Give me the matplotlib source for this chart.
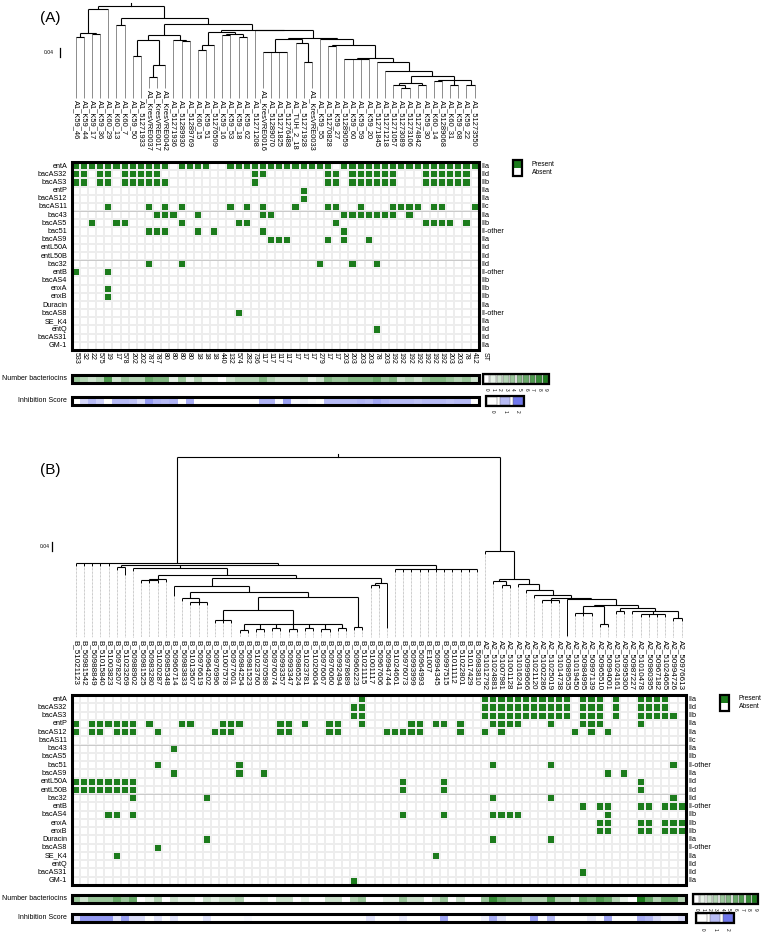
import matplotlib
matplotlib.use('Agg')
import matplotlib.pyplot as plt
import numpy as np
from matplotlib.colors import LinearSegmentedColormap, ListedColormap
from matplotlib.patches import Rectangle

# ---------------- data ----------------
rows = ["entA", "bacAS32", "bacAS3", "entP", "bacAS12", "bacAS11", "bac43", "bacAS5",
        "bac51", "bacAS9", "entL50A", "entL50B", "bac32", "entB", "bacAS4", "enxA",
        "enxB", "Duracin", "bacAS8", "SE_K4", "entQ", "bacAS31", "GM-1"]
classes = ["IIa", "IId", "IIb", "IIa", "IIa", "IIc", "IIa", "IIb", "II-other", "IIa",
           "IId", "IId", "IId", "II-other", "IIb", "IIb", "IIb", "IIa", "II-other",
           "IIa", "IId", "IId", "IIa"]

A_isolates = ["A1_K59_46", "A1_K59_44", "A1_K59_17", "A1_K59_36", "A1_K60_29", "A1_K60_13",
              "A1_K60_7", "A1_K59_50", "A1_51271933", "A1_KresVRE0037", "A1_KresVRE0017",
              "A1_KresVRE0042", "A1_51271936", "A1_51289930", "A1_51289769", "A1_K60_15",
              "A1_K59_51", "A1_51276509", "A1_K59_16", "A1_K59_53", "A1_K59_18", "A1_K59_62",
              "A1_51271208", "A1_KresVRE0016", "A1_51289070", "A1_51271825", "A1_51276488",
              "A1_TUH_2_18", "A1_51271928", "A1_KresVRE0033", "A1_K59_55", "A1_51270828",
              "A1_K59_27", "A1_51289059", "A1_K59_60", "A1_K59_59", "A1_K59_20", "A1_51271845",
              "A1_51271218", "A1_51271057", "A1_51273089", "A1_51273106", "A1_51274842",
              "A1_K59_30", "A1_K60_14", "A1_51289068", "A1_K60_31", "A1_K59_68", "A1_K59_22",
              "A1_51273550"]
A_ST = ["533", "32", "22", "575", "19", "17", "578", "202", "202", "787", "787", "80", "80",
        "80", "80", "18", "18", "18", "440", "132", "574", "282", "736", "117", "117", "117",
        "117", "17", "17", "17", "279", "17", "17", "203", "203", "203", "203", "78", "203",
        "192", "192", "192", "192", "192", "192", "192", "203", "203", "78", "412"]
A_presence = {
    "entA": list(range(0, 12)) + list(range(13, 17)) + list(range(19, 32)) + list(range(33, 50)),
    "bacAS32": [0, 1, 3, 4, 6, 7, 8, 9, 10, 22, 23, 31, 32, 34, 35, 36, 37, 38, 39, 43, 44, 45, 46, 47, 48],
    "bacAS3": [0, 1, 3, 4, 6, 7, 8, 9, 10, 11, 22, 31, 32, 34, 35, 36, 37, 38, 39, 43, 44, 45, 46, 47, 48],
    "entP": [28],
    "bacAS12": [28],
    "bacAS11": [4, 9, 11, 13, 19, 21, 23, 27, 31, 32, 35, 39, 40, 41, 42, 44, 45, 49],
    "bac43": [10, 11, 12, 15, 23, 24, 33, 34, 35, 36, 37, 38, 39, 41],
    "bacAS5": [2, 5, 6, 13, 20, 21, 32, 43, 44, 45, 46, 48],
    "bac51": [9, 10, 11, 15, 17, 23, 33],
    "bacAS9": [24, 25, 26, 31, 33, 36],
    "bac32": [9, 13, 30, 34, 37],
    "entB": [0, 4],
    "enxA": [4],
    "enxB": [4],
    "bacAS8": [20],
    "entQ": [37],
}
A_inhibition = [0, 0.6, 1.0, 0.7, 0, 1.0, 1.0, 0.9, 0.5, 1.5, 1.1, 1.0, 1.1, 0, 1.2, 0, 0, 0,
                0, 0, 0, 0, 0, 1.1, 1.1, 0.1, 1.4, 0.1, 0.2, 0.1, 0, 1.0, 1.0, 1.0, 1.0, 1.1,
                1.0, 1.3, 1.1, 1.0, 1.0, 1.0, 0.9, 1.0, 1.0, 1.0, 0.9, 1.0, 1.0, 0]

B_isolates = ["B_51021123", "B_50981542", "B_50988849", "B_51015840", "B_51003823", "B_50978207",
              "B_51023269", "B_50988902", "B_50981525", "B_50983280", "B_51020287", "B_50985348",
              "B_50966714", "B_50983833", "B_51013567", "B_50976619", "B_50964202", "B_50976996",
              "B_51007578", "B_50977601", "B_50984254", "B_50981523", "B_51023760", "B_50970598",
              "B_50976074", "B_50993357", "B_50993347", "B_50986524", "B_51023781", "B_51020604",
              "B_50976067", "B_50976060", "B_50992494", "B_50978689", "B_50966223", "B_51021115",
              "B_51001117", "B_50967606", "B_50994744", "B_51024661", "B_50976073", "B_50993999",
              "B_50964993", "B_E1007", "B_50994345", "B_50997515", "B_51011112", "B_51022801",
              "B_51017429", "B_50983810",
              "A2_51012792", "A2_51024881", "A2_51007981", "A2_51001128", "A2_51016241",
              "A2_50999666", "A2_51021120", "A2_51002286", "A2_51025019", "A2_51014738",
              "A2_50989535", "A2_51019450", "A2_50984995", "A2_50997139", "A2_50965510",
              "A2_50994001", "A2_51024161", "A2_50995300", "A2_50987227", "A2_51010478",
              "A2_50980395", "A2_50967182", "A2_51024665", "A2_50994726", "A2_50976613"]
B_presence = {
    "entA": [35] + list(range(50, 61)) + [62, 63, 64, 66, 69, 70, 71, 72],
    "bacAS32": [34, 35] + list(range(50, 61)) + [62, 63, 64, 66, 69, 70, 71, 72],
    "bacAS3": [34, 35] + list(range(50, 61)) + [62, 63, 64, 66, 69, 70, 71, 72, 73],
    "entP": [0, 2, 3, 4, 5, 6, 7, 9, 13, 14, 18, 19, 20, 25, 26, 28, 31, 32, 35, 41, 42, 44, 45,
             47, 51, 52, 53, 54, 58, 62, 63, 64, 69],
    "bacAS12": [0, 2, 3, 5, 6, 7, 10, 17, 18, 19, 25, 26, 31, 32, 38, 39, 40, 41, 42, 47, 50, 52,
                61, 63, 65],
    "bac43": [12],
    "bac51": [10, 20, 51, 58, 73],
    "bacAS9": [12, 20, 23, 65, 67],
    "entL50A": [0, 1, 2, 3, 4, 5, 6, 7, 40, 45, 69],
    "entL50B": [0, 1, 2, 3, 4, 5, 6, 7, 40, 45, 69],
    "bac32": [7, 16, 51, 58, 73],
    "entB": [62, 64, 65, 69, 70, 72, 73, 74],
    "bacAS4": [4, 5, 7, 40, 45, 51, 52, 53, 54, 65],
    "enxA": [64, 65, 69, 70, 72, 73, 74],
    "enxB": [64, 65, 69, 70, 72, 73, 74],
    "Duracin": [16, 51, 58],
    "bacAS8": [10],
    "SE_K4": [5, 44],
    "bacAS31": [62],
    "GM-1": [34],
}
B_inhibition = [0.5, 1.5, 1.5, 1.5, 1.5, 0.4, 1.4, 0.5, 0.5, 0, 0.4, 0, 0.4, 0, 0, 0, 0.4, 0,
                0, 0, 0, 0.1, 0, 0, 0, 0, 0, 0, 0, 0, 0, 0, 0, 0, 0, 0, 0.4, 0, 0, 0, 0.3, 0,
                0, 0, 0, 1.3, 0, 0, 0, 0, 0.2, 1.2, 0.4, 0, 0, 0, 1.4, 0, 1.0, 0, 0, 0, 0,
                0.3, 0, 1.3, 0, 0, 0, 1.2, 1.0, 0.5, 0.2, 0.2, 0.5]

# dendrograms: (node height in px from top, [children]); leaves are column indices
a_left = (8.5, [(33, [(36.5, [0, 1]), (34, [2, 3])]), 4])
a_n1 = (40, [(56, [7, 8]), (65, [(77, [9, 10]), 11])])
a_n5 = (40, [12, (41, [13, 14])])
a_q1 = (35, [a_n1, a_n5])
a_q3 = (32, [(45, [(50, [15, 16]), 17]), (34, [(35, [18, 19]), (37, [20, 21])])])
a_q6 = (38.5, [(52, [23, 24, 25, 26]), (43, [27, (62, [28, 29])])])
a_q14 = (82.5, [(85, [39, (88, [40, 41])]), (85, [42, 43])])
a_q15 = (80, [(81, [44, 45]), (85, [46, 47]), (85, [48, 49])])
a_q12 = (70.5, [38, (76, [a_q14, a_q15])])
a_q10 = (58, [(59, [33, 34, 35, 36]), (62, [37, a_q12])])
a_q7 = (38.5, [30, (45, [(46, [31, 32]), a_q10])])
a_q4 = (30, [22, (38, [a_q6, a_q7])])
a_right = (18, [(25, [5, 6]), (24, [a_q1, (29.5, [a_q3, a_q4])])])
A_tree = (6, [a_left, a_right])
A_tips = {9: 88, 10: 88, 11: 88, 23: 88, 29: 88}

b_s12 = (624, [(630, [20, 21]), (629, [22, 23]), (628, [24, 25]), (629, [26, 27]),
               (628, [28, 29]), (629, [30, 31]), (628, [32, 33])])
b_s10 = (597, [(610, [(620, [17, 18, 19]), b_s12]), (627, [34, 35])])
b_s6 = (586, [12, (592, [(598, [13, (602, [14, 15, 16])]), b_s10])])
b_s3 = (575, [(579, [(580, [8, 9, 10]), 11]), (578, [b_s6, (583, [(585, [36, 37]), 38])])])
b_s1 = (565, [(567, [5, 6]), (568, [7, b_s3]), (569, [39, 40, 41, 42, 43, 44, 45, 46, 47, 48, 49])])
b_left = (563, [0, 1, 2, 3, 4, b_s1])
b_rb7 = (605, [(606, [(613, [61, 62, 63]), (624, [64, 65])]),
               (608, [(611, [66, 67]), (611, [68, (614, [69, 70, 71, 72]), (618, [73, 74])])])])
b_rb4 = (595, [56, (598, [(600, [57, 58, 59]), (599, [60, b_rb7])])])
b_right = (551, [50, (579, [(581, [51, (585, [52, 53])]), (584, [54, (590, [55, b_rb4])])])])
B_tree = (457, [b_left, b_right])
B_tips = {6: 575, 12: 596, 38: 628, 60: 636}

# ---------------- style ----------------
W, H = 764, 934
GREEN = '#1c7c1c'
BLUE = '#6f77ec'
plt.rcParams['font.family'] = ['Liberation Sans', 'DejaVu Sans']
cm_present = ListedColormap(['white', GREEN])
cm_num = LinearSegmentedColormap.from_list('num', ['white', GREEN])
cm_inh = LinearSegmentedColormap.from_list('inh', ['white', BLUE])

fig = plt.figure(figsize=(W / 100, H / 100), dpi=100)


def add_ax(left, top, width, height):
    ax = fig.add_axes([left / W, 1 - (top + height) / H, width / W, height / H])
    ax.set_axis_off()
    return ax


def border(ax, w, h, lw=2.2):
    ax.add_patch(Rectangle((0, 0), w, h, fill=False, lw=lw, ec='black', clip_on=False, zorder=5))


def draw_tree(ax, node, parent_y, tips, default_tip, dotted, baseline, out):
    if isinstance(node, int):
        x = node + 0.5
        tip = tips.get(node, default_tip if default_tip is not None else parent_y + 3)
        ax.plot([x, x], [parent_y, tip], color='#8c8c8c' if not dotted else 'black', lw=0.7,
                solid_capstyle='butt')
        if dotted and tip < baseline:
            ax.plot([x, x], [tip, baseline], color='#9a9a9a', lw=0.5, ls=(0, (1, 1)))
        out[node] = tip
        return x
    y, children = node
    xs = [draw_tree(ax, ch, y, tips, default_tip, dotted, baseline, out) for ch in children]
    ax.plot([min(xs), max(xs)], [y, y], color='black', lw=0.8, solid_capstyle='butt')
    x = (min(xs) + max(xs)) / 2
    if parent_y is not None:
        ax.plot([x, x], [parent_y, y], color='black', lw=0.8, solid_capstyle='butt')
    return x


def heatmap(left, top, width, height, presence, ncol, legend_xy):
    ax = add_ax(left, top, width, height)
    nr = len(rows)
    mat = np.zeros((nr, ncol))
    for r, name in enumerate(rows):
        for c in presence.get(name, []):
            mat[r, c] = 1
    ax.pcolormesh(np.arange(ncol + 1), np.arange(nr + 1), mat, cmap=cm_present, vmin=0, vmax=1,
                  edgecolors='#ededed', linewidth=0.3)
    ax.set_xlim(0, ncol)
    ax.set_ylim(nr, 0)
    for yb in (6, 12):
        ax.plot([0, ncol], [yb, yb], color='#c4c4c4', lw=0.6)
    border(ax, ncol, nr)
    for r, (name, cl) in enumerate(zip(rows, classes)):
        ax.text(-0.55, r + 0.5, name, ha='right', va='center', fontsize=5.2)
        ax.text(ncol + 0.35, r + 0.5, cl, ha='left', va='center', fontsize=5.2)
    lx, ly = legend_xy
    lax = add_ax(lx, ly, 9, 16)
    lax.set_xlim(0, 1)
    lax.set_ylim(2, 0)
    lax.add_patch(Rectangle((0, 0), 1, 1, color=GREEN, lw=0))
    lax.add_patch(Rectangle((0, 1), 1, 1, color='white', lw=0))
    border(lax, 1, 2, lw=1.6)
    lax.text(2.1, 0.5, 'Present', ha='left', va='center', fontsize=4.8)
    lax.text(2.1, 1.5, 'Absent', ha='left', va='center', fontsize=4.8)
    return ax, mat


def bar(left, top, width, height, values, cmap, vmax, label):
    ax = add_ax(left, top, width, height)
    n = len(values)
    ax.pcolormesh(np.arange(n + 1), [0, 1], np.array([values], dtype=float), cmap=cmap,
                  vmin=0, vmax=vmax)
    ax.set_xlim(0, n)
    ax.set_ylim(1, 0)
    border(ax, n, 1)
    ax.text(-0.6, 0.5, label, ha='right', va='center', fontsize=5.0)


def legend_boxes(left, top, width, height, nbox, cmap, vmax, labels):
    ax = add_ax(left, top, width, height)
    ax.set_xlim(0, nbox)
    ax.set_ylim(1, 0)
    for i in range(nbox):
        ax.add_patch(Rectangle((i + 0.1, 0.1), 0.8, 0.8, facecolor=cmap(i / vmax),
                               edgecolor='#555555', lw=0.3))
    border(ax, nbox, 1, lw=1.6)
    for i, lab in enumerate(labels):
        ax.text(i + 0.5, 1.45, lab, rotation=270, ha='center', va='top', fontsize=3.4)


# ---------------- panel A ----------------
nA = len(A_isolates)
fig.text(40 / W, 1 - 18 / H, '(A)', fontsize=11, ha='left', va='center')
dA = add_ax(71.7, 0, 407, 100)
dA.set_xlim(0, nA)
dA.set_ylim(100, 0)
tipsA = {}
rx = draw_tree(dA, A_tree, None, A_tips, 98, False, 98, tipsA)
dA.plot([rx, rx], [3, 6], color='black', lw=0.8)
for i, name in enumerate(A_isolates):
    dA.text(i + 0.5, tipsA[i] + 1.5, name, rotation=270, ha='center', va='top', fontsize=5.4)
fig.text(54 / W, 1 - 53 / H, '0.04', fontsize=3.6, ha='right', va='center')
fig.add_artist(plt.Line2D([60 / W, 60 / W], [1 - 48 / H, 1 - 57 / H], color='black', lw=0.9))

hA, matA = heatmap(71.7, 162, 407, 188, A_presence, nA, (513, 160))
for i, st in enumerate(A_ST):
    hA.text(i + 0.5, 23.3, st, rotation=270, ha='center', va='top', fontsize=5.0)
hA.text(nA + 0.35, 23.3, 'ST', rotation=270, ha='left', va='top', fontsize=5.0)

bar(71.7, 374.5, 407, 8, matA.sum(axis=0), cm_num, 9, 'Number bacteriocins')
bar(71.7, 396.5, 407, 8, A_inhibition, cm_inh, 2, 'Inhibition Score')
legend_boxes(483, 373.5, 66, 10, 10, cm_num, 9, [str(i) for i in range(10)])
legend_boxes(486, 395.5, 38, 10, 3, cm_inh, 2, ['0', '1', '2'])

# ---------------- panel B ----------------
nB = len(B_isolates)
fig.text(40 / W, 1 - 470 / H, '(B)', fontsize=11, ha='left', va='center')
dB = add_ax(71.7, 450, 614, 190)
dB.set_xlim(0, nB)
dB.set_ylim(640, 450)
tipsB = {}
rx = draw_tree(dB, B_tree, None, B_tips, None, True, 637, tipsB)
dB.plot([rx, rx], [454, 457], color='black', lw=0.8)
for i, name in enumerate(B_isolates):
    dB.text(i + 0.5, 639.5, name, rotation=270, ha='center', va='top', fontsize=5.8)
fig.text(50 / W, 1 - 547 / H, '0.04', fontsize=3.6, ha='right', va='center')
fig.add_artist(plt.Line2D([52 / W, 52 / W], [1 - 542 / H, 1 - 551 / H], color='black', lw=0.9))

hB, matB = heatmap(71.7, 695, 614, 190, B_presence, nB, (720, 695))
bar(71.7, 894.5, 614, 8, matB.sum(axis=0), cm_num, 9, 'Number bacteriocins')
bar(71.7, 913.5, 614, 8, B_inhibition, cm_inh, 2, 'Inhibition Score')
legend_boxes(693, 894, 65, 9.5, 10, cm_num, 9, [str(i) for i in range(10)])
legend_boxes(696, 912.5, 38, 10.5, 3, cm_inh, 2, ['0', '1', '2'])

fig.savefig('out.png', dpi=100)
